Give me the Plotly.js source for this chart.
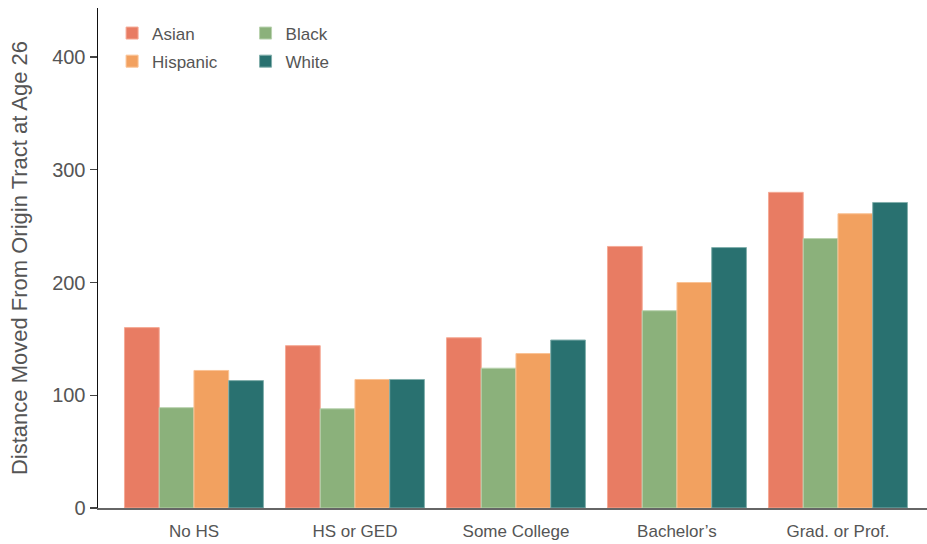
<!DOCTYPE html>
<html>
<head>
<meta charset="utf-8">
<script src="https://cdn.plot.ly/plotly-3.0.1.min.js"></script>
<style>html,body{margin:0;padding:0;background:#fff;}#chart{width:927px;height:544px;}</style>
</head>
<body>
<div id="chart"></div>
<script>
const categories = ["No HS", "HS or GED", "Some College", "Bachelor\u2019s", "Grad. or Prof."];
const asian    = [160, 144, 151, 232, 280];
const black    = [89, 88, 124, 175, 239];
const hispanic = [122, 114, 137, 200, 261];
const white    = [113, 114, 149, 231, 271];
const seriesNames = ["Asian", "Black", "Hispanic", "White"];
const yTicks = [0, 100, 200, 300, 400];

const colors = {
  Asian: "rgb(232,124,99)",
  Black: "rgb(139,177,123)",
  Hispanic: "rgb(242,161,96)",
  White: "rgb(41,113,112)"
};
const lineColors = {
  Asian: "rgba(245,170,150,1)",
  Black: "rgba(185,210,175,1)",
  Hispanic: "rgba(250,195,150,1)",
  White: "rgba(130,175,172,1)"
};
const values = {Asian: asian, Black: black, Hispanic: hispanic, White: white};
const legendOf = {Asian: "legend", Hispanic: "legend", Black: "legend2", White: "legend2"};

const traces = seriesNames.map(name => ({
  type: "bar",
  name: name,
  x: categories,
  y: values[name],
  legend: legendOf[name],
  legendgroup: name,
  marker: {color: colors[name], line: {color: lineColors[name], width: 1}},
  hoverinfo: "x+y+name"
}));

const legendBase = {
  orientation: "v",
  xanchor: "left",
  yanchor: "top",
  bgcolor: "rgba(0,0,0,0)",
  font: {family: "Liberation Sans, Arial, sans-serif", size: 17, color: "#555555"},
  tracegroupgap: 3,
  traceorder: "grouped"
};

const layout = {
  width: 927,
  height: 544,
  margin: {l: 98, r: 0, t: 8, b: 36},
  paper_bgcolor: "#ffffff",
  plot_bgcolor: "#ffffff",
  font: {family: "Liberation Sans, Arial, sans-serif", color: "#555555"},
  barmode: "group",
  bargap: 0.137,
  bargroupgap: 0,
  showlegend: true,
  legend: Object.assign({}, legendBase, {x: 0.017, y: 0.985}),
  legend2: Object.assign({}, legendBase, {x: 0.178, y: 0.985}),
  xaxis: {
    type: "category",
    range: [-0.596, 4.553],
    showgrid: false,
    zeroline: false,
    showline: true,
    linecolor: "#666666",
    linewidth: 1.5,
    ticks: "",
    ticklabelstandoff: 7,
    tickfont: {size: 17, color: "#555555"},
    fixedrange: true
  },
  yaxis: {
    range: [0, 443.5],
    tickvals: yTicks,
    ticktext: yTicks.map(String),
    showgrid: false,
    zeroline: false,
    showline: true,
    linecolor: "#111111",
    linewidth: 1.5,
    ticks: "outside",
    ticklen: 7,
    tickwidth: 1.2,
    tickcolor: "#444444",
    tickfont: {size: 20, color: "#555555"},
    title: {text: "Distance Moved From Origin Tract at Age 26", font: {size: 22, color: "#555555"}, standoff: 18},
    fixedrange: true
  }
};

Plotly.newPlot("chart", traces, layout, {displayModeBar: false, staticPlot: true});
</script>
</body>
</html>
